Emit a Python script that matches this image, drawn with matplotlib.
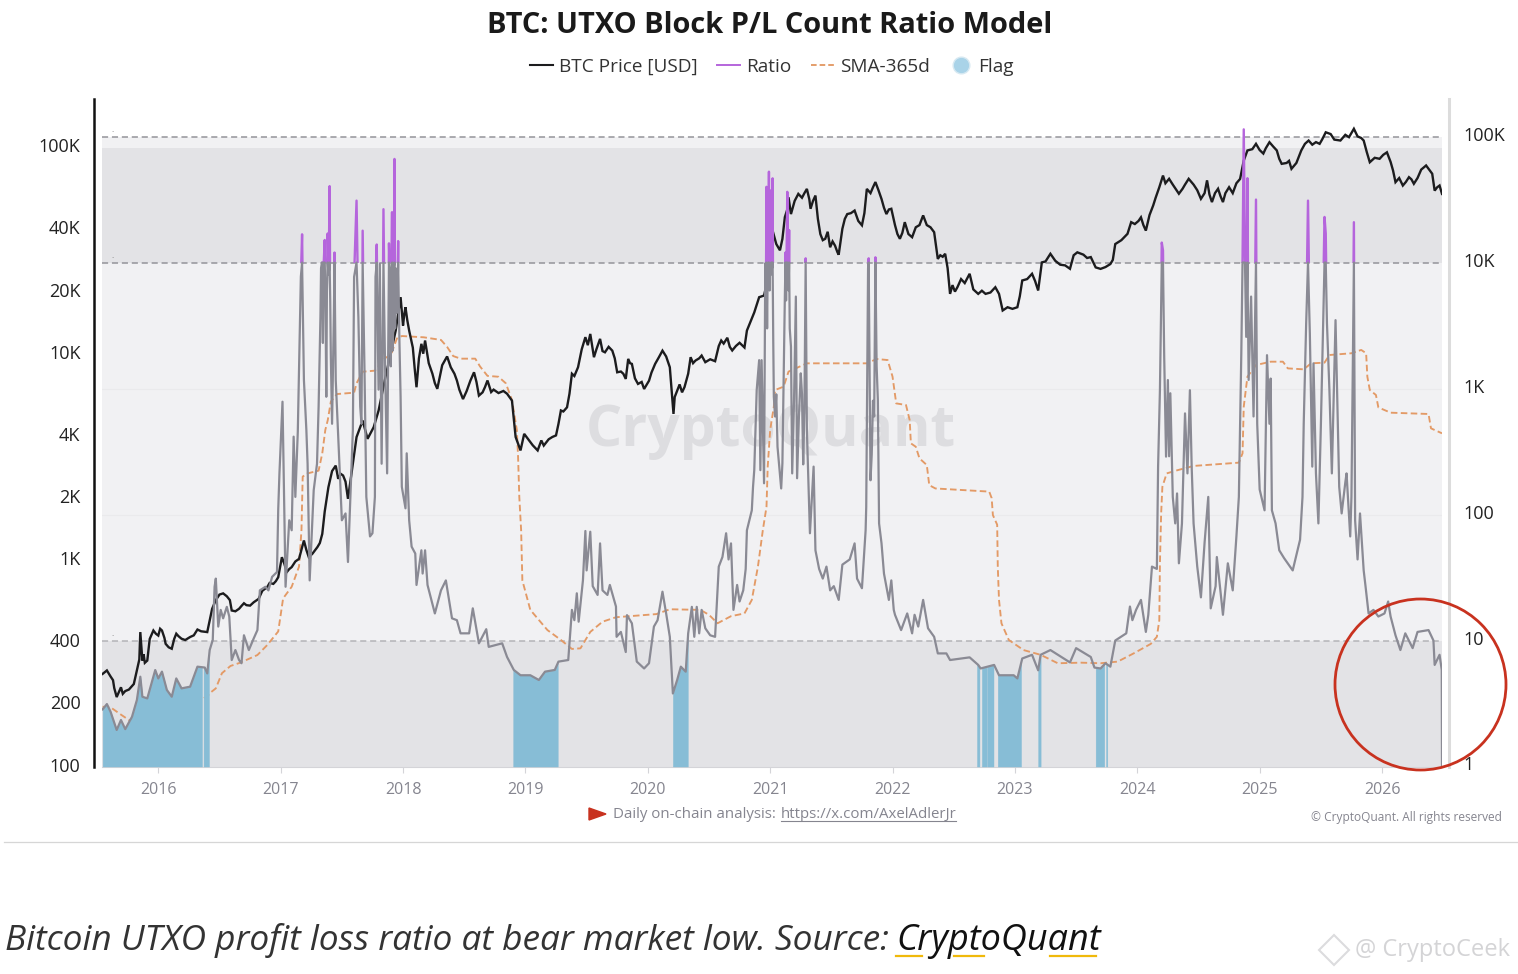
"""BTC UTXO Block P/L Count Ratio chart (CryptoQuant style)."""
import matplotlib
matplotlib.use("Agg")
import matplotlib.pyplot as plt
import numpy as np
from matplotlib.lines import Line2D
from matplotlib.patches import Ellipse, Polygon, Rectangle
from matplotlib.ticker import NullLocator
from matplotlib.transforms import ScaledTranslation

W, H = 1518, 974

TITLE = "BTC: UTXO Block P/L Count Ratio Model"
YEARS = list(range(2016, 2027))
PRICE_TICKS = [100, 200, 400, 1000, 2000, 4000, 10000, 20000, 40000, 100000]
PRICE_LABELS = ["100", "200", "400", "1K", "2K", "4K", "10K", "20K", "40K", "100K"]
RATIO_TICKS = [1, 10, 100, 1000, 10000, 100000]
RATIO_LABELS = ["1", "10", "100", "1K", "10K", "100K"]

# (decimal year, USD)
PRICE = [
    (2015.545, 281), (2015.58, 292), (2015.61, 273), (2015.66, 217), (2015.695, 242), (2015.73, 232),
    (2015.80, 251), (2015.845, 330), (2015.853, 448), (2015.87, 326), (2015.91, 326), (2015.96, 456),
    (2016.00, 431), (2016.03, 456), (2016.06, 393), (2016.11, 372), (2016.147, 440), (2016.19, 416),
    (2016.26, 424), (2016.32, 461), (2016.40, 448), (2016.44, 581), (2016.50, 681), (2016.56, 668),
    (2016.60, 570), (2016.66, 581), (2016.70, 618), (2016.75, 602), (2016.82, 649), (2016.89, 740),
    (2016.94, 767), (2016.98, 826), (2017.01, 1033), (2017.05, 875), (2017.09, 925), (2017.15, 1014),
    (2017.19, 1245), (2017.23, 1033), (2017.30, 1156), (2017.34, 1340), (2017.39, 2254), (2017.45, 2870),
    (2017.47, 2477), (2017.51, 2570), (2017.55, 1982), (2017.62, 3945), (2017.67, 4745), (2017.71, 3870),
    (2017.76, 4406), (2017.80, 5300), (2017.85, 7400), (2017.94, 12950), (2017.98, 18800), (2018.00, 13700),
    (2018.02, 16800), (2018.05, 12950), (2018.08, 10700), (2018.11, 6880), (2018.15, 11170), (2018.18, 11590),
    (2018.24, 8000), (2018.28, 6760), (2018.36, 9700), (2018.42, 8000), (2018.44, 7420), (2018.49, 6030),
    (2018.58, 8130), (2018.62, 6270), (2018.69, 7420), (2018.72, 6520), (2018.85, 6400), (2018.89, 5930),
    (2018.92, 3950), (2018.96, 3400), (2018.99, 4090), (2019.03, 3800), (2019.10, 3400), (2019.15, 3590),
    (2019.25, 4020), (2019.27, 4570), (2019.29, 5310), (2019.34, 5500), (2019.38, 8000), (2019.43, 8600),
    (2019.49, 12030), (2019.53, 12470), (2019.56, 9620), (2019.61, 11800), (2019.65, 10160), (2019.71, 10350),
    (2019.75, 8130), (2019.82, 7550), (2019.84, 9440), (2019.87, 8930), (2019.92, 7140), (2019.97, 6750),
    (2020.01, 7400), (2020.06, 8930), (2020.12, 10350), (2020.18, 8600), (2020.21, 5110), (2020.22, 6170),
    (2020.30, 6890), (2020.35, 9620), (2020.39, 9270), (2020.44, 9800), (2020.55, 9200), (2020.60, 11590),
    (2020.65, 11950), (2020.69, 10370), (2020.79, 10720), (2020.81, 12950), (2020.87, 15850), (2020.91, 18790),
    (2020.95, 19140), (2020.98, 23000), (2021.02, 39500), (2021.08, 31700), (2021.12, 45900), (2021.15, 57300),
    (2021.17, 47500), (2021.23, 59500), (2021.30, 62900), (2021.33, 50400), (2021.37, 58400), (2021.41, 38000),
    (2021.45, 36050), (2021.49, 32800), (2021.53, 33400), (2021.56, 30200), (2021.59, 40300), (2021.63, 47500),
    (2021.69, 49400), (2021.75, 41900), (2021.79, 62900), (2021.86, 67900), (2021.91, 56200), (2021.95, 47500),
    (2021.99, 50400), (2022.06, 36050), (2022.10, 43400), (2022.16, 36700), (2022.25, 46800), (2022.34, 38800),
    (2022.37, 28800), (2022.43, 30500), (2022.47, 19500), (2022.53, 21000), (2022.63, 24400), (2022.70, 19500),
    (2022.76, 19500), (2022.84, 21000), (2022.90, 16200), (2023.02, 16800), (2023.06, 22650), (2023.14, 24400),
    (2023.19, 20250), (2023.22, 27700), (2023.29, 30500), (2023.45, 25800), (2023.51, 31000), (2023.62, 29400),
    (2023.66, 26200), (2023.70, 25770), (2023.78, 27200), (2023.82, 34000), (2023.92, 38100), (2023.95, 43400),
    (2024.03, 45800), (2024.07, 39500), (2024.13, 52300), (2024.18, 64100), (2024.21, 73000), (2024.26, 70400),
    (2024.34, 59600), (2024.42, 70400), (2024.52, 56300), (2024.57, 69200), (2024.61, 54300), (2024.66, 63000),
    (2024.70, 54300), (2024.75, 64100), (2024.84, 70300), (2024.87, 86300), (2024.90, 96600), (2024.97, 104000),
    (2025.03, 93300), (2025.08, 105900), (2025.14, 96600), (2025.18, 83200), (2025.26, 78700), (2025.34, 96600),
    (2025.40, 107900), (2025.49, 104000), (2025.54, 118300), (2025.66, 107900), (2025.77, 123000), (2025.85, 107900),
    (2025.90, 84700), (2026.04, 94600), (2026.09, 77200), (2026.11, 67800), (2026.17, 65300), (2026.22, 71700),
    (2026.26, 66600), (2026.36, 81700), (2026.41, 74500), (2026.43, 61700), (2026.47, 65300), (2026.49, 59500),
]

# smaller swings of the price between the turning points above
PRICE_DETAIL = [
    (2015.63, 262), (2015.64, 240), (2015.71, 225), (2015.76, 236), (2015.88, 350), (2015.89, 318),
    (2015.93, 415), (2015.98, 440), (2016.015, 465), (2016.05, 420), (2016.085, 378), (2016.13, 415),
    (2016.165, 428), (2016.22, 410), (2016.29, 432), (2016.35, 452), (2016.47, 640), (2016.53, 690),
    (2016.585, 640), (2016.63, 565), (2016.68, 600), (2016.72, 605), (2016.78, 625), (2016.85, 710),
    (2016.91, 775), (2016.96, 790), (2017.03, 960), (2017.07, 905), (2017.12, 985), (2017.21, 1120),
    (2017.26, 1075), (2017.32, 1210), (2017.36, 1720), (2017.42, 2700), (2017.49, 2620), (2017.53, 2400),
    (2018.01, 15500), (2018.035, 14500), (2018.065, 11800), (2018.095, 8500), (2018.13, 9500), (2018.165, 10000),
    (2018.21, 9000), (2018.26, 7200), (2018.32, 8800), (2018.39, 8600), (2018.46, 6700), (2018.52, 6600),
    (2018.55, 7400), (2018.60, 7300), (2018.65, 6500), (2018.67, 6900), (2018.74, 6700), (2018.78, 6450),
    (2018.82, 6600), (2019.06, 3600), (2019.13, 3800), (2019.19, 3850), (2019.22, 3950), (2019.31, 5250),
    (2019.36, 6400), (2019.40, 7800), (2019.46, 10500), (2019.51, 11000), (2019.58, 10500), (2019.63, 10300),
    (2019.68, 10800), (2019.73, 9500), (2019.78, 8200), (2019.80, 8000), (2019.855, 9000), (2019.895, 7600),
    (2019.95, 7300), (2020.03, 8100), (2020.09, 9600), (2020.15, 9700), (2020.26, 7100), (2020.28, 6500),
    (2020.33, 8000), (2020.37, 9000), (2020.42, 9500), (2020.47, 9100), (2020.51, 9400), (2020.58, 10900),
    (2020.62, 11200), (2020.67, 10800), (2020.72, 10900), (2020.75, 11300), (2021.05, 34000), (2021.10, 36000),
    (2021.14, 50000), (2021.20, 55000), (2021.26, 57000), (2021.28, 60000), (2021.32, 56000), (2021.35, 55000),
    (2021.39, 45000), (2021.43, 35500), (2021.47, 39000), (2021.51, 35000), (2021.55, 31000), (2021.61, 45000),
    (2021.66, 48000), (2021.72, 44000), (2021.77, 48000), (2021.82, 60000), (2021.84, 64000), (2021.885, 62000),
    (2021.93, 51000), (2021.97, 50000), (2022.02, 42000), (2022.04, 38000), (2022.08, 38500), (2022.13, 38000),
    (2022.19, 41000), (2022.22, 42000), (2022.28, 42000), (2022.31, 41000), (2022.39, 30000), (2022.41, 29500),
    (2022.45, 26000), (2022.49, 21500), (2022.51, 20000), (2022.56, 23000), (2022.59, 22000), (2022.66, 20500),
    (2022.73, 20200), (2022.80, 19800), (2022.87, 19500), (2022.94, 16800), (2022.98, 16500), (2023.04, 19000),
    (2023.10, 23000), (2023.165, 22500), (2023.25, 28000), (2023.33, 28200), (2023.37, 27000), (2023.41, 26800),
    (2023.48, 30000), (2023.56, 30200), (2023.59, 29100), (2023.74, 26300), (2023.80, 28500), (2023.87, 35500),
    (2023.90, 37000), (2023.98, 42500), (2024.01, 44000), (2024.05, 42000), (2024.10, 47000), (2024.15, 57000),
    (2024.23, 67000), (2024.29, 66000), (2024.37, 63000), (2024.39, 66000), (2024.46, 66000), (2024.49, 62000),
    (2024.55, 60000), (2024.59, 59000), (2024.635, 60000), (2024.68, 58000), (2024.72, 60000), (2024.78, 60000),
    (2024.81, 67000), (2024.94, 98000), (2025.0, 97000), (2025.05, 99000), (2025.11, 101000), (2025.16, 88000),
    (2025.22, 84000), (2025.24, 86000), (2025.30, 84000), (2025.37, 104000), (2025.43, 103000), (2025.46, 106000),
    (2025.51, 109000), (2025.58, 116000), (2025.61, 109000), (2025.70, 115000), (2025.73, 112000), (2025.80, 113000),
    (2025.83, 111000), (2025.875, 95000), (2025.94, 89000), (2025.98, 88000), (2026.01, 92000), (2026.07, 85000),
    (2026.14, 71000), (2026.195, 68000), (2026.24, 70000), (2026.29, 71000), (2026.32, 78000), (2026.385, 78000),
    (2026.45, 64000),
]

# (decimal year, ratio)
SMA = [
    (2015.545, 2.98), (2015.61, 2.95), (2015.70, 2.56), (2015.76, 2.34), (2016.10, 2.6), (2016.40, 3.6),
    (2016.425, 3.85), (2016.47, 4.17), (2016.52, 5.5), (2016.59, 6.28), (2016.67, 6.67), (2016.81, 7.67),
    (2016.89, 9.2), (2016.98, 11.8), (2017.02, 21.6), (2017.09, 26.7), (2017.15, 38.6), (2017.17, 75.3),
    (2017.18, 200), (2017.22, 212), (2017.31, 223), (2017.34, 306), (2017.365, 470), (2017.385, 562),
    (2017.41, 787), (2017.46, 904), (2017.60, 927), (2017.62, 1100), (2017.67, 1360), (2017.77, 1386),
    (2017.85, 1738), (2017.90, 1845), (2017.95, 2500), (2017.99, 2610), (2018.17, 2550), (2018.31, 2430),
    (2018.36, 2140), (2018.41, 1810), (2018.47, 1726), (2018.59, 1726), (2018.63, 1493), (2018.69, 1260),
    (2018.78, 1240), (2018.84, 1100), (2018.89, 810), (2018.93, 468), (2018.94, 288), (2018.95, 138),
    (2018.965, 75), (2018.975, 30), (2019.04, 17.5), (2019.18, 12.1), (2019.29, 10.1), (2019.38, 8.57),
    (2019.45, 8.67), (2019.53, 11.7), (2019.63, 14.1), (2019.74, 15.3), (2020.07, 16.2), (2020.18, 17.7),
    (2020.43, 17.5), (2020.50, 16), (2020.57, 13.7), (2020.68, 15.6), (2020.79, 16.4), (2020.85, 21),
    (2020.90, 38.6), (2020.94, 75), (2020.97, 115), (2020.98, 240), (2021.0, 468), (2021.03, 718),
    (2021.04, 973), (2021.11, 1035), (2021.15, 1362), (2021.30, 1585), (2021.79, 1585), (2021.87, 1715),
    (2021.96, 1683), (2022.0, 1242), (2022.03, 762), (2022.11, 740), (2022.14, 562), (2022.15, 367),
    (2022.19, 345), (2022.22, 279), (2022.28, 247), (2022.30, 171), (2022.35, 161), (2022.79, 152),
    (2022.81, 135), (2022.82, 99), (2022.855, 83), (2022.86, 38.6), (2022.87, 21), (2022.89, 13.7),
    (2022.95, 10.1), (2023.07, 8.4), (2023.21, 7.7), (2023.35, 6.6), (2023.54, 6.67), (2023.70, 6.6),
    (2023.84, 6.8), (2023.97, 7.9), (2024.11, 9.4), (2024.16, 10.7), (2024.18, 14.5), (2024.185, 41),
    (2024.195, 102), (2024.205, 166), (2024.24, 212), (2024.33, 225), (2024.46, 243), (2024.83, 258),
    (2024.86, 306), (2024.87, 718), (2024.90, 1241), (2024.97, 1536), (2025.09, 1633), (2025.19, 1633),
    (2025.23, 1445), (2025.36, 1420), (2025.42, 1585), (2025.53, 1604), (2025.57, 1845), (2025.75, 1905),
    (2025.83, 2024), (2025.87, 1905), (2025.88, 1242), (2025.90, 973), (2025.95, 889), (2025.97, 708),
    (2026.07, 643), (2026.38, 628), (2026.40, 483), (2026.49, 441),
]

RATIO_2015_2017 = [
    (2015.545, 2.84), (2015.58, 3.13), (2015.61, 2.72), (2015.66, 1.95), (2015.695, 2.34), (2015.73, 1.98),
    (2015.785, 2.48), (2015.825, 3.37), (2015.853, 5.16), (2015.87, 3.58), (2015.91, 3.47), (2015.975, 5.83),
    (2016.00, 5.0), (2016.03, 5.66), (2016.07, 4.05), (2016.11, 3.58), (2016.147, 5.0), (2016.19, 4.17),
    (2016.26, 4.3), (2016.32, 6.2), (2016.38, 6.1), (2016.40, 5.48), (2016.42, 8.4), (2016.445, 10.1),
    (2016.46, 26.7), (2016.47, 31), (2016.49, 12.9), (2016.51, 17.5), (2016.53, 15), (2016.56, 18.5),
    (2016.58, 15.5), (2016.60, 7), (2016.63, 8.4), (2016.66, 7), (2016.68, 6.6), (2016.70, 11),
    (2016.74, 8.4), (2016.78, 10.4), (2016.81, 12.1), (2016.83, 25), (2016.875, 26.7), (2016.90, 25),
    (2016.93, 32), (2016.97, 35), (2016.98, 109),
]
RATIO_2017 = [
    (2016.99, 212), (2017.015, 786), (2017.04, 26.7), (2017.07, 90), (2017.09, 75), (2017.106, 415),
    (2017.12, 138), (2017.14, 454), (2017.165, 7720), (2017.175, 16750), (2017.19, 1170), (2017.21, 468),
    (2017.22, 253), (2017.237, 30), (2017.27, 156), (2017.297, 253), (2017.31, 718), (2017.325, 3720),
    (2017.338, 10000), (2017.36, 15100), (2017.373, 860), (2017.384, 17000), (2017.40, 40400), (2017.41, 1780),
    (2017.42, 525), (2017.44, 12000), (2017.45, 1170), (2017.466, 525), (2017.48, 253), (2017.50, 90),
    (2017.53, 102), (2017.55, 42), (2017.57, 138), (2017.59, 468), (2017.60, 7700), (2017.62, 31000),
    (2017.635, 3700), (2017.65, 718), (2017.66, 525), (2017.67, 17900), (2017.685, 1400), (2017.70, 138),
    (2017.73, 67), (2017.75, 71), (2017.77, 138), (2017.775, 7700), (2017.785, 13900), (2017.80, 980),
    (2017.81, 9800), (2017.825, 253), (2017.84, 26500), (2017.855, 1170), (2017.87, 212), (2017.885, 14200),
    (2017.90, 1500), (2017.91, 25100), (2017.92, 3000), (2017.93, 66400), (2017.945, 5400), (2017.96, 14800),
    (2017.98, 860),
]
RATIO_2018_2020 = [
    (2017.99, 166), (2018.02, 112), (2018.03, 306), (2018.05, 90), (2018.07, 55.6), (2018.10, 49),
    (2018.11, 27.6), (2018.15, 52), (2018.16, 34), (2018.18, 52), (2018.20, 27.6), (2018.26, 16.4),
    (2018.31, 25), (2018.35, 30), (2018.40, 15), (2018.44, 14.5), (2018.47, 11.4), (2018.54, 11.4),
    (2018.57, 18), (2018.62, 9.5), (2018.68, 12.3), (2018.70, 8.9), (2018.81, 9.5), (2018.85, 7.4),
    (2018.905, 5.84), (2018.96, 5.3), (2019.04, 5.3), (2019.11, 4.86), (2019.16, 5.66), (2019.24, 5.84),
    (2019.27, 6.8), (2019.35, 7), (2019.37, 12.9), (2019.38, 17.5), (2019.40, 14.5), (2019.42, 23.7),
    (2019.435, 14.1), (2019.47, 30), (2019.49, 74), (2019.50, 36), (2019.53, 73), (2019.55, 27),
    (2019.59, 23), (2019.61, 59), (2019.63, 25), (2019.67, 23), (2019.69, 27.6), (2019.74, 18.6),
    (2019.745, 10.7), (2019.78, 11.7), (2019.82, 8.1), (2019.83, 15.9), (2019.87, 13.7), (2019.91, 6.8),
    (2019.97, 6), (2020.01, 6.6), (2020.05, 12.9), (2020.08, 14.5), (2020.12, 24.4), (2020.15, 16.4),
    (2020.18, 10.7), (2020.205, 3.8), (2020.24, 4.86), (2020.27, 6.2), (2020.31, 5.66), (2020.33, 11.4),
    (2020.36, 18.5), (2020.38, 10.7), (2020.40, 18.5), (2020.42, 11.4), (2020.44, 17.5), (2020.47, 12.5),
    (2020.51, 11), (2020.55, 10.7), (2020.58, 38.6), (2020.61, 46), (2020.64, 71), (2020.66, 44),
    (2020.68, 59), (2020.70, 17.5), (2020.73, 27.6), (2020.75, 20.4), (2020.78, 25), (2020.80, 37),
    (2020.81, 75), (2020.85, 108),
]
RATIO_2021_2023 = [
    (2020.86, 166), (2020.87, 225), (2020.89, 973), (2020.91, 1680), (2020.92, 225), (2020.93, 1680),
    (2020.95, 177), (2020.96, 9800), (2020.97, 39900), (2020.98, 9000), (2020.99, 52600), (2021.0, 9500),
    (2021.01, 37600), (2021.02, 46600), (2021.03, 860), (2021.06, 345), (2021.09, 161), (2021.10, 255),
    (2021.12, 5370), (2021.14, 36400), (2021.155, 18100), (2021.17, 2150), (2021.18, 212), (2021.21, 5370),
    (2021.22, 194), (2021.25, 1320), (2021.27, 250), (2021.29, 10800), (2021.30, 468), (2021.325, 71),
    (2021.34, 130), (2021.37, 52), (2021.40, 37), (2021.43, 31), (2021.46, 38.6), (2021.49, 25),
    (2021.52, 27), (2021.56, 21), (2021.59, 40), (2021.65, 44), (2021.69, 59), (2021.71, 31),
    (2021.75, 26), (2021.78, 75), (2021.785, 115), (2021.805, 10800), (2021.82, 187), (2021.84, 800),
    (2021.86, 11000), (2021.88, 812), (2021.89, 85), (2021.91, 59), (2021.93, 34), (2021.97, 21),
    (2021.99, 30), (2022.01, 17.5), (2022.02, 16), (2022.07, 12.1), (2022.12, 16.4), (2022.16, 11.4),
    (2022.18, 16), (2022.21, 12.9), (2022.25, 21), (2022.29, 12.5), (2022.34, 10.7), (2022.37, 7.9),
    (2022.44, 7.9), (2022.47, 7), (2022.63, 7.35), (2022.70, 6.4), (2022.72, 6), (2022.83, 6.4),
    (2022.87, 5.3), (2022.99, 5.3), (2023.02, 5), (2023.06, 7.2), (2023.14, 7.7), (2023.19, 5.8),
    (2023.21, 7.7), (2023.29, 8.4), (2023.45, 6.7), (2023.50, 8.7), (2023.62, 7.4), (2023.65, 6.1),
    (2023.70, 6), (2023.74, 6.6), (2023.78, 6.2), (2023.82, 10), (2023.91, 11.4), (2023.94, 18.6),
    (2023.96, 14.5), (2023.99, 17.5),
]
RATIO_2024_2026 = [
    (2024.03, 21), (2024.07, 11.7), (2024.09, 16), (2024.12, 38.6), (2024.16, 37), (2024.17, 240),
    (2024.185, 973), (2024.20, 14400), (2024.21, 12500), (2024.22, 1780), (2024.235, 288), (2024.25, 1168),
    (2024.26, 290), (2024.27, 917), (2024.29, 138), (2024.31, 85), (2024.325, 147), (2024.34, 41),
    (2024.365, 85), (2024.39, 635), (2024.41, 212), (2024.43, 970), (2024.445, 230), (2024.46, 85),
    (2024.49, 38.6), (2024.52, 22), (2024.55, 60), (2024.58, 138), (2024.60, 18), (2024.64, 27),
    (2024.65, 46), (2024.70, 16), (2024.74, 41), (2024.78, 25), (2024.81, 67), (2024.83, 138),
    (2024.85, 1900), (2024.86, 10000), (2024.87, 114000), (2024.88, 11000), (2024.89, 2570), (2024.90, 46700),
    (2024.91, 1170), (2024.93, 5370), (2024.95, 600), (2024.97, 31600), (2024.98, 525), (2025.0, 158),
    (2025.04, 108), (2025.06, 1840), (2025.08, 525), (2025.09, 1200), (2025.10, 108), (2025.13, 85),
    (2025.16, 52), (2025.20, 45), (2025.27, 36), (2025.33, 63), (2025.35, 138), (2025.36, 525),
    (2025.38, 3290), (2025.395, 31000), (2025.41, 2750), (2025.43, 240), (2025.44, 1585), (2025.46, 212),
    (2025.48, 85), (2025.50, 500), (2025.53, 23000), (2025.54, 17000), (2025.55, 3290), (2025.57, 970),
    (2025.59, 212), (2025.62, 3490), (2025.65, 166), (2025.67, 102), (2025.70, 180), (2025.71, 212),
    (2025.74, 67), (2025.75, 138), (2025.77, 20900), (2025.78, 90), (2025.80, 44), (2025.82, 102),
    (2025.85, 36), (2025.865, 27), (2025.89, 16.4), (2025.93, 17.5), (2025.97, 15.5), (2026.02, 16.4),
    (2026.05, 20.4), (2026.07, 15.5), (2026.11, 11), (2026.15, 8.4), (2026.19, 11.4), (2026.25, 8.7),
    (2026.29, 11.7), (2026.38, 12.1), (2026.42, 10), (2026.43, 6.4), (2026.47, 7.7), (2026.488, 5.84),
    (2026.49, 1),
]
# the thick clusters of daily swings near the 10K line
RATIO_DETAIL = [
    (2017.33, 9000), (2017.345, 2300), (2017.352, 10000), (2017.366, 5000), (2017.378, 6000), (2017.392, 8000),
    (2017.405, 5000), (2017.435, 4000), (2017.895, 6000), (2017.905, 9000), (2017.915, 2000), (2017.925, 9000),
    (2017.935, 3000), (2017.94, 9000), (2017.95, 4000), (2017.97, 2500), (2020.965, 5000), (2020.975, 3000),
    (2020.985, 14000), (2020.995, 6000), (2021.005, 8000), (2021.015, 9000), (2021.025, 2500), (2021.04, 600),
    (2021.05, 900), (2021.125, 12000), (2021.13, 5000), (2021.135, 14000), (2021.15, 6000), (2021.16, 3000),
    (2021.195, 800), (2021.235, 600), (2021.26, 900), (2021.28, 700), (2021.355, 240), (2021.80, 9000),
    (2021.83, 300), (2021.85, 600), (2021.87, 1500),
]

# flagged periods, start and end in decimal years
FLAG_STARTS = [2015.545, 2016.37, 2018.90, 2020.205, 2022.69, 2022.73, 2022.775, 2022.86, 2023.19, 2023.66, 2023.745]
FLAG_ENDS = [2016.357, 2016.414, 2019.264, 2020.327, 2022.71, 2022.77, 2022.825, 2023.05, 2023.21, 2023.73, 2023.755]

BAND_DARK = "#e3e3e6"
BAND_LIGHT = "#f1f1f3"
GRAY = "#8a8a94"
PURPLE = "#b565dc"
ORANGE = "#e39a66"
BLUE = "#87bdd6"
TEXT_GRAY = "#85858f"

plt.rcParams["font.family"] = ["Open Sans", "DejaVu Sans"]


def px(x, y):
    """Picture pixels to figure fractions."""
    return x / W, 1 - y / H


def unzip(points):
    a = np.array(sorted(points), dtype=float)
    return a[:, 0], a[:, 1]


def nudge_labels(axis, dy_px):
    """Move the tick labels of a y axis up by a few pixels."""
    shift = ScaledTranslation(0, dy_px / 100, fig.dpi_scale_trans)
    for tick in axis.yaxis.get_major_ticks():
        for label in (tick.label1, tick.label2):
            label.set_transform(label.get_transform() + shift)


fig = plt.figure(figsize=(W / 100, H / 100), dpi=100, facecolor="white")
left, bottom = px(102, 766.5)
ax = fig.add_axes([left, bottom, (1442 - 102) / W, (766.5 - 99) / H])
ax_price = ax.twinx()
ax_top = ax.twinx()

price_x, price_y = unzip(PRICE + PRICE_DETAIL)
sma_x, sma_y = unzip(SMA)
ratio_x, ratio_y = unzip(RATIO_2015_2017 + RATIO_2017 + RATIO_2018_2020 + RATIO_2021_2023 + RATIO_2024_2026
                         + RATIO_DETAIL)

# bands and guide lines
ax.axhspan(1, 10, color=BAND_DARK, lw=0, zorder=0)
ax.axhspan(10, 10000, color=BAND_LIGHT, lw=0, zorder=0)
ax.axhspan(10000, 81000, color=BAND_DARK, lw=0, zorder=0)
ax.axhspan(81000, 100000, color=BAND_LIGHT, lw=0, zorder=0)
for level in (100, 1000):
    ax.axhline(level, color="#eaeaec", lw=0.8, zorder=1)
ax.axhline(10, color="#b4b4b8", lw=1.1, ls=(0, (4, 2.5)), zorder=1)
ax.axhline(10000, color="#94949a", lw=1.1, ls=(0, (4, 2.5)), zorder=1)
ax.axhline(100000, color="#94949a", lw=1.1, ls=(0, (4, 2.5)), zorder=1)

# watermark sits behind every line
ax.text(*px(771, 431), "CryptoQuant", transform=fig.transFigure, fontsize=41, color="#dddde0", ha="center",
        va="center", fontweight="bold", zorder=1.5)

ax.plot(sma_x, sma_y, color=ORANGE, lw=1.35, ls=(0, (3.5, 1.8)), zorder=2, label="SMA-365d")

for start, end in zip(FLAG_STARTS, FLAG_ENDS):
    inside = (ratio_x > start) & (ratio_x < end)
    fx = np.r_[start, ratio_x[inside], end]
    ax.fill_between(fx, 1, np.interp(fx, ratio_x, ratio_y), color=BLUE, lw=0.3, zorder=3)

ax_price.plot(price_x, price_y, color="#1c1c1e", lw=1.7, solid_joinstyle="miter")
purple_line, = ax_top.plot(ratio_x, ratio_y, color=PURPLE, lw=1.7)
purple_line.set_clip_path(Rectangle((2015, 10000), 12, 1e6, transform=ax_top.transData))
ax_top.plot(ratio_x, np.minimum(ratio_y, 10000), color=GRAY, lw=1.6)

# tiny marks sitting on the guide lines
for level in (10500, 105000):
    ax.text(2015.63, level, ".", color="#777777", fontsize=6, ha="center", va="bottom")
ax.text(2015.63, 10.5, ".", color="#777777", fontsize=6, ha="center", va="bottom")

ax.set_xlim(2015.54, 2026.49)
ax.set_yscale("log")
ax.set_ylim(1, 198600)
ax_top.set_yscale("log")
ax_top.set_ylim(1, 198600)
ax_price.set_yscale("log")
ax_price.set_ylim(100, 171500)

ax.set_facecolor("white")
ax.set_xticks(YEARS)
ax.set_xticklabels([str(y) for y in YEARS], fontsize=11.5, color=TEXT_GRAY)
ax.tick_params(axis="x", length=4, width=0.8, color="#d4d4d8", pad=7.5)
ax.yaxis.set_visible(False)

ax_price.yaxis.set_ticks_position("left")
ax_price.set_yticks(PRICE_TICKS)
ax_price.set_yticklabels(PRICE_LABELS, fontsize=13, color="#222222")
ax_price.yaxis.set_minor_locator(NullLocator())
ax_price.tick_params(axis="y", length=0, pad=15.5)
nudge_labels(ax_price, 2)

ax_top.yaxis.set_ticks_position("right")
ax_top.set_yticks(RATIO_TICKS)
ax_top.set_yticklabels(RATIO_LABELS, fontsize=13, color="#222222")
ax_top.yaxis.set_minor_locator(NullLocator())
ax_top.tick_params(axis="y", length=0, pad=15.5)
nudge_labels(ax_top, 3)

for a in (ax, ax_price, ax_top):
    for side in ("top", "left", "right", "bottom"):
        a.spines[side].set_visible(False)
ax_price.patch.set_visible(False)
ax_top.patch.set_visible(False)
ax.spines["bottom"].set_visible(True)
ax.spines["bottom"].set_color("#d4d4d8")
ax.spines["bottom"].set_linewidth(0.8)
ax.spines["left"].set_visible(True)
ax.spines["left"].set_position(("outward", 6))
ax.spines["left"].set_color("#111111")
ax.spines["left"].set_linewidth(1.8)
ax.spines["right"].set_visible(True)
ax.spines["right"].set_position(("outward", 5.0))
ax.spines["right"].set_color("#dcdcdc")
ax.spines["right"].set_linewidth(2.2)

fig.text(*px(770, 25.5), TITLE, fontsize=20.9, fontweight="bold", color="#1a1a1a", ha="center", va="center")

handles = [
    Line2D([], [], color="#1c1c1e", lw=1.5),
    Line2D([], [], color=PURPLE, lw=1.4),
    Line2D([], [], color=ORANGE, lw=1.35, ls=(0, (3, 1.6))),
    Line2D([], [], color="none", marker="o", markersize=12, markerfacecolor="#a9d3e8",
           markeredgecolor="#d7e9f2", markeredgewidth=1),
]
fig.legend(handles, ["BTC Price [USD]", "Ratio", "SMA-365d", "Flag"], loc="center", ncol=4,
           bbox_to_anchor=px(772, 66.5), frameon=False, fontsize=13.7, labelcolor="#333333",
           handlelength=1.2, handletextpad=0.3, columnspacing=1.05, borderpad=0)

# footer
fig.add_artist(Polygon([px(589, 808), px(606, 814), px(589, 820)], closed=True, color="#c8321f",
                       transform=fig.transFigure))
fig.text(*px(613, 814), "Daily on-chain analysis:", fontsize=10.85, color=TEXT_GRAY, va="center")
fig.text(*px(781, 814), "https://x.com/AxelAdlerJr", fontsize=10.85, color=TEXT_GRAY, va="center")
fig.add_artist(Line2D(*zip(px(781, 821), px(956, 821)), color=TEXT_GRAY, lw=0.8, transform=fig.transFigure))
fig.text(*px(1502, 817), "© CryptoQuant. All rights reserved", fontsize=8.6, color=TEXT_GRAY, ha="right",
         va="center")
fig.add_artist(Line2D(*zip(px(4, 842), px(1518, 842)), color="#d6d6d6", lw=0.9, transform=fig.transFigure))

# red circle round the latest readings
cx, cy = px(1420.5, 684.5)
fig.add_artist(Ellipse((cx, cy), 171 / W, 171 / H, fill=False, edgecolor="#c8321f", lw=2,
                       transform=fig.transFigure, zorder=6))

# caption under the chart
fig.text(*px(5, 941), "Bitcoin UTXO profit loss ratio at bear market low. Source:", fontsize=25.4,
         style="italic", color="#333333", va="center")
fig.text(*px(896, 941), "CryptoQuant", fontsize=25.9, style="italic", color="#111111", va="center")
for x0, x1 in [(896, 922), (954, 984), (1050, 1096)]:
    fig.add_artist(Line2D(*zip(px(x0, 956), px(x1, 956)), color="#f0b90b", lw=1.6, transform=fig.transFigure))

fig.text(*px(1355, 950), "@ CryptoCeek", fontsize=17, color="#d4d4d6", va="center")
fig.add_artist(Line2D(*zip(px(1334, 950)), marker="D", markersize=15, markerfacecolor="none",
                      markeredgecolor="#dcdcde", markeredgewidth=1.5, transform=fig.transFigure))

fig.savefig("out.png", dpi=100)
